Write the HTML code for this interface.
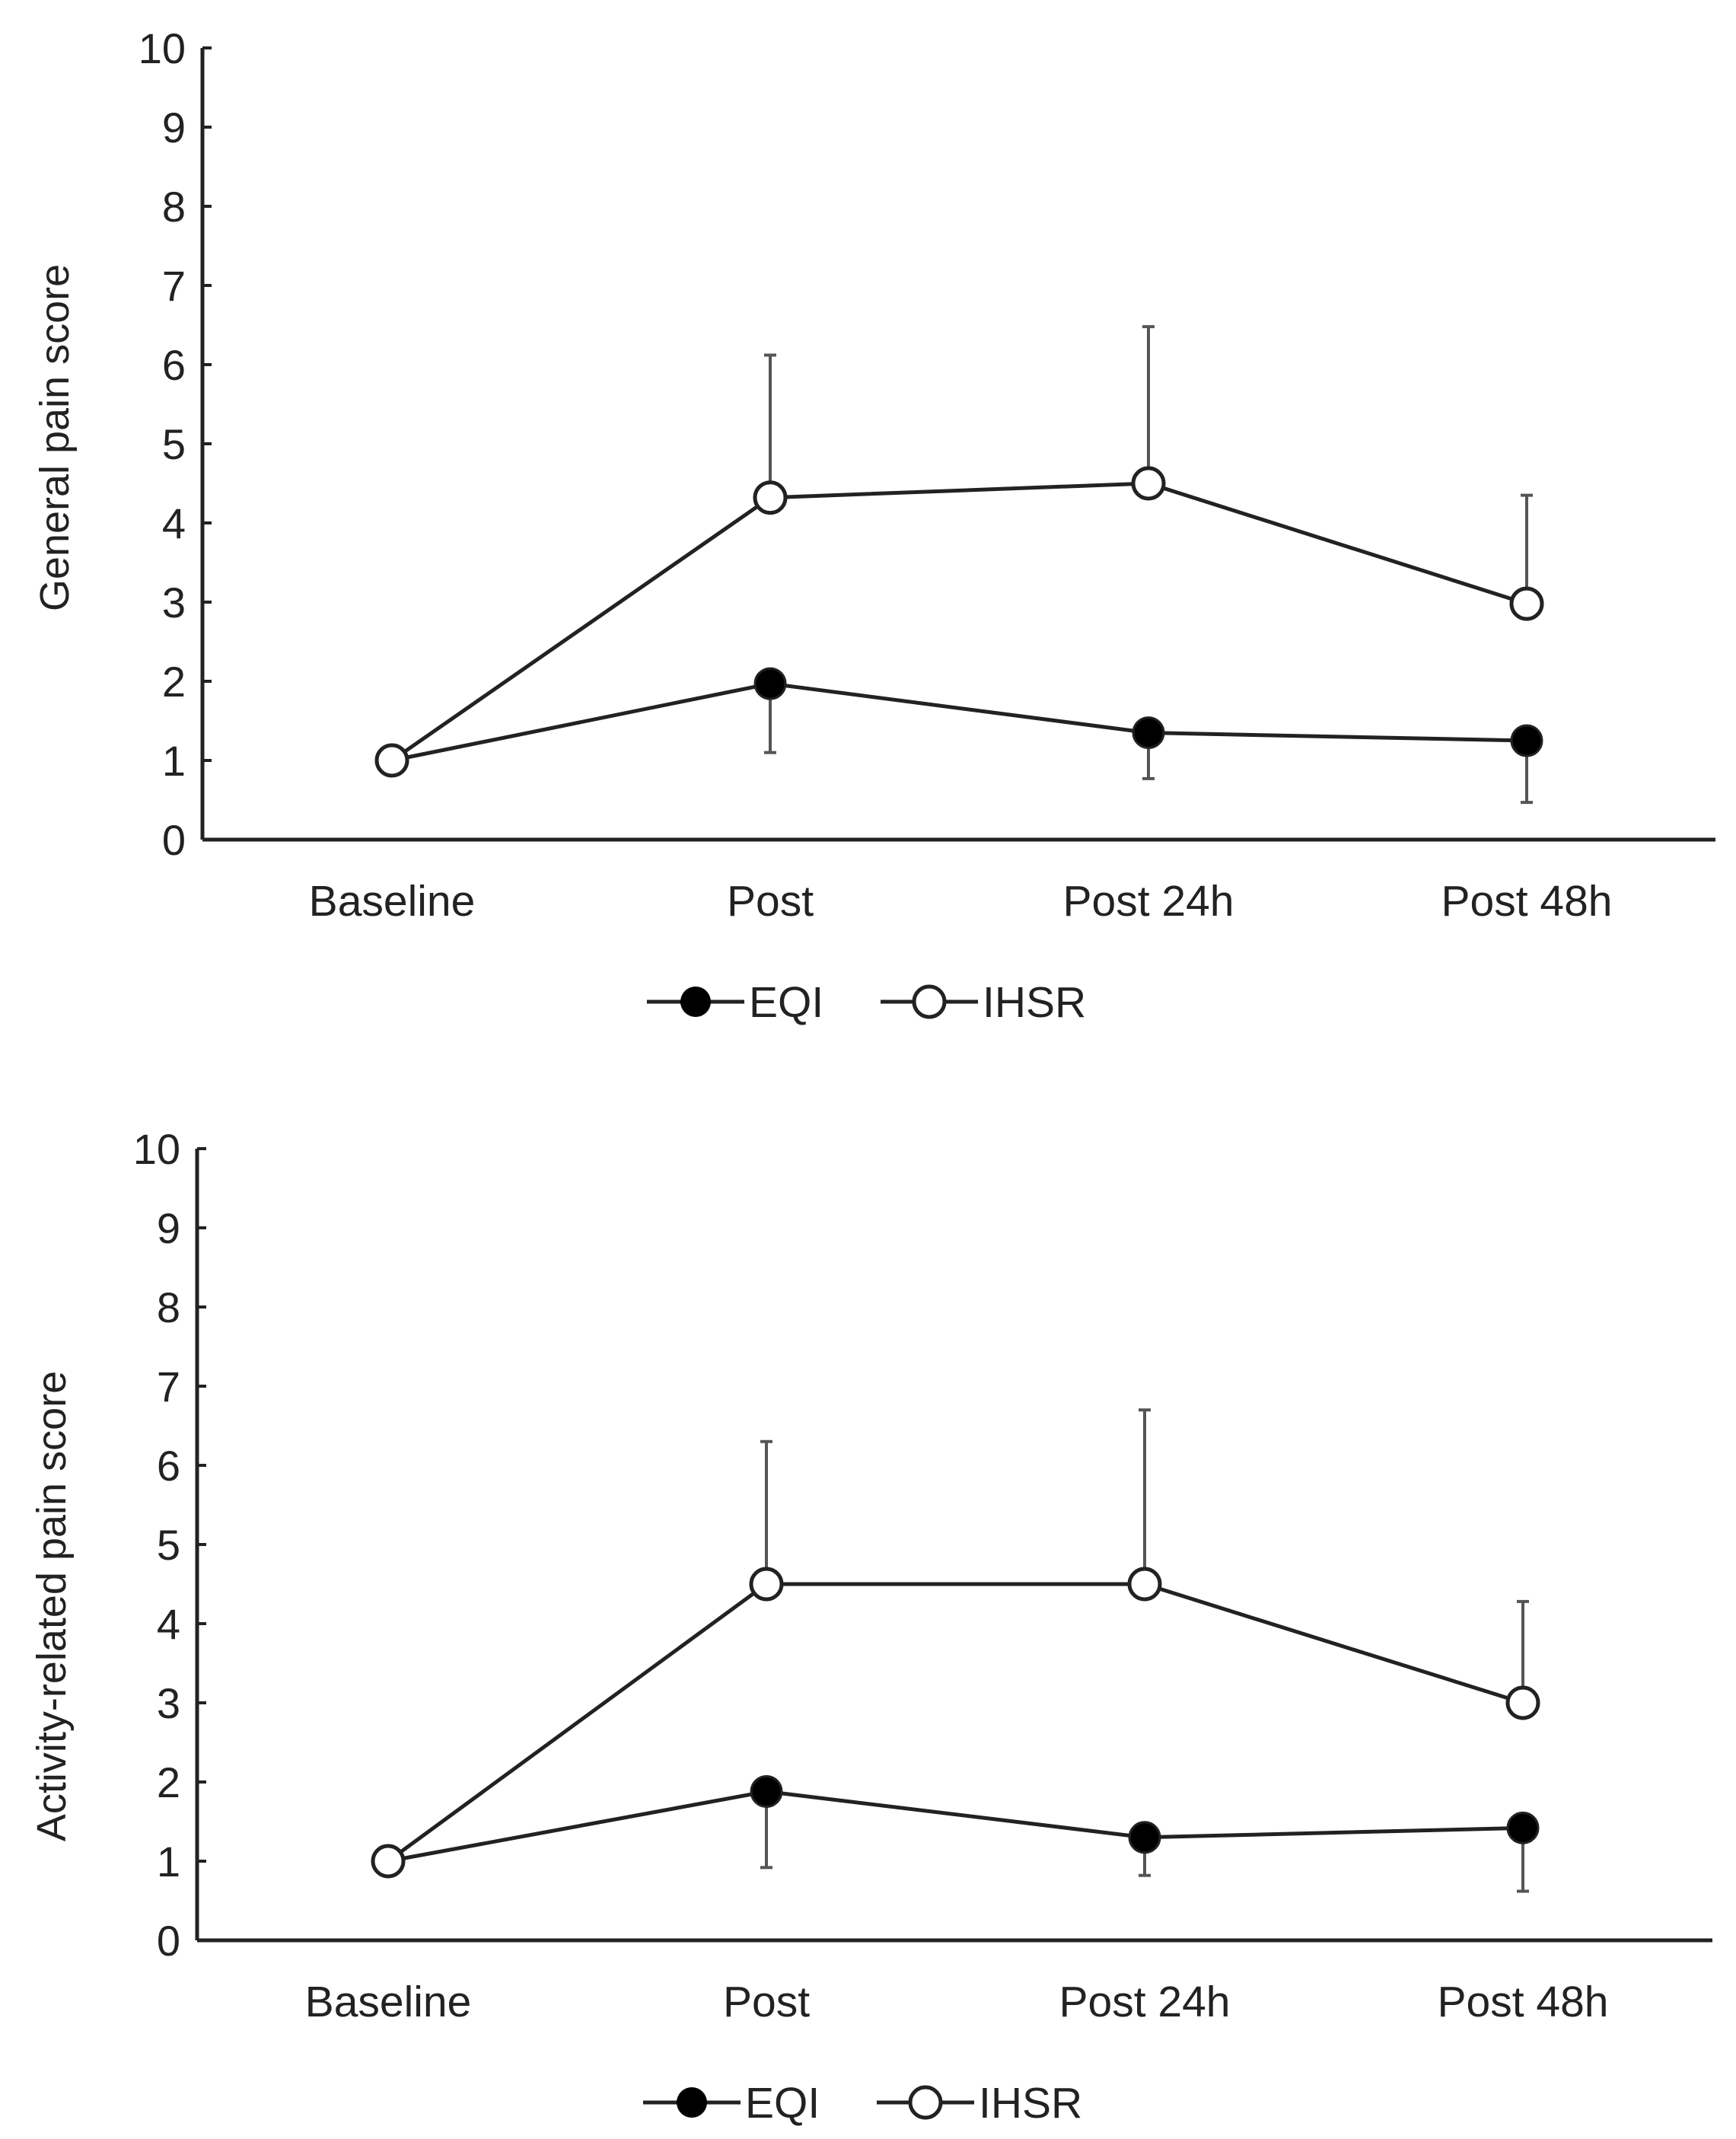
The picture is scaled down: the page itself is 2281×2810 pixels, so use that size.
<!DOCTYPE html>
<html><head><meta charset="utf-8"><style>
html,body{margin:0;padding:0;background:#fff;}
svg{display:block;font-family:"Liberation Sans",Arial,sans-serif;}
</style></head><body>
<svg id="fig" width="2281" height="2810" viewBox="0 0 2281 2810"></svg>
<script>
const categories = ["Baseline","Post","Post 24h","Post 48h"];
const yTicks = [0,1,2,3,4,5,6,7,8,9,10];
const eqi1 = [1,1.97,1.35,1.25];
const eqi1Low = [1,1.1,0.77,0.47];
const ihsr1 = [1,4.32,4.5,2.98];
const ihsr1High = [1,6.12,6.48,4.35];
const eqi2 = [1,1.88,1.3,1.42];
const eqi2Low = [1,0.92,0.82,0.62];
const ihsr2 = [1,4.5,4.5,3.0];
const ihsr2High = [1,6.3,6.7,4.28];
const titles = ["General pain score","Activity-related pain score"];

const NS="http://www.w3.org/2000/svg";
const svg=document.getElementById('fig');
function mk(tag,attrs,parent){const e=document.createElementNS(NS,tag);for(const k in attrs)e.setAttribute(k,attrs[k]);(parent||svg).appendChild(e);return e;}

function chart(idx,cfg,eqi,eqiLow,ihsr,ihsrHigh){
  const g=mk('g',{});
  
  
  const y=v=>cfg.y0-(cfg.y0-cfg.y10)*v/10;
  const x=i=>cfg.xs+i*cfg.dx;
  const ya=mk('line',{x1:cfg.ax,y1:cfg.y10,x2:cfg.ax,y2:cfg.y0,stroke:'#222','stroke-width':5},g);
  
  const xa=mk('line',{x1:cfg.ax,y1:cfg.y0,x2:cfg.right,y2:cfg.y0,stroke:'#222','stroke-width':5},g);
  
  yTicks.forEach(t=>{
    const tk=mk('line',{x1:cfg.ax,y1:y(t),x2:cfg.ax+12,y2:y(t),stroke:'#222','stroke-width':4},g);
    
    const tl=mk('text',{x:cfg.ax-22,y:y(t)+20,'text-anchor':'end','font-size':56,fill:'#222'},g);
    tl.textContent=t;
    
  });
  categories.forEach((c,i)=>{
    const tl=mk('text',{x:x(i),y:cfg.labY,'text-anchor':'middle','font-size':57,fill:'#222'},g);
    tl.textContent=c;
    
  });
  const tt=mk('text',{x:0,y:0,'text-anchor':'middle','font-size':54,fill:'#222',transform:`translate(${cfg.titleX},${cfg.titleY}) rotate(-90)`},g);
  tt.textContent=titles[idx];
  
  eqi.forEach((v,i)=>{ if(i===0)return;
    const e=mk('path',{d:`M${x(i)},${y(v)}V${y(eqiLow[i])}M${x(i)-8},${y(eqiLow[i])}H${x(i)+8}`,stroke:'#555','stroke-width':4,fill:'none'},g);
    
  });
  ihsr.forEach((v,i)=>{ if(i===0)return;
    const e=mk('path',{d:`M${x(i)},${y(v)}V${y(ihsrHigh[i])}M${x(i)-8},${y(ihsrHigh[i])}H${x(i)+8}`,stroke:'#555','stroke-width':4,fill:'none'},g);
    
  });
  const l1=mk('polyline',{points:eqi.map((v,i)=>x(i)+','+y(v)).join(' '),stroke:'#222','stroke-width':5,fill:'none'},g);
  
  const l2=mk('polyline',{points:ihsr.map((v,i)=>x(i)+','+y(v)).join(' '),stroke:'#222','stroke-width':5,fill:'none'},g);
  
  eqi.forEach((v,i)=>{
    const p=mk('circle',{cx:x(i),cy:y(v),r:20,fill:'#000',stroke:'#222','stroke-width':3},g);
    
  });
  ihsr.forEach((v,i)=>{
    const p=mk('circle',{cx:x(i),cy:y(v),r:20,fill:'#fff',stroke:'#222','stroke-width':5},g);
    
  });
  const lg=mk('g',{},g);
  
  const ly=cfg.legY, m1=cfg.legX, m2=cfg.legX+307;
  const e1=mk('g',{},lg);
  
  mk('line',{x1:m1-64,y1:ly,x2:m1+64,y2:ly,stroke:'#222','stroke-width':5},e1);
  mk('circle',{cx:m1,cy:ly,r:20,fill:'#000'},e1);
  const t1=mk('text',{x:m1+70,y:ly+20,'font-size':57,fill:'#222'},e1);t1.textContent='EQI';
  const e2=mk('g',{},lg);
  
  mk('line',{x1:m2-64,y1:ly,x2:m2+64,y2:ly,stroke:'#222','stroke-width':5},e2);
  mk('circle',{cx:m2,cy:ly,r:20,fill:'#fff',stroke:'#222','stroke-width':5},e2);
  const t2=mk('text',{x:m2+70,y:ly+20,'font-size':57,fill:'#222'},e2);t2.textContent='IHSR';
}
chart(0,{ax:266,right:2254,y10:63,y0:1103,xs:515,dx:497,labY:1203,titleX:90,titleY:575,legY:1316,legX:914},eqi1,eqi1Low,ihsr1,ihsr1High);
chart(1,{ax:259,right:2250,y10:1509,y0:2549,xs:510,dx:497,labY:2649,titleX:86,titleY:2110,legY:2762,legX:909},eqi2,eqi2Low,ihsr2,ihsr2High);
</script>
</body></html>
